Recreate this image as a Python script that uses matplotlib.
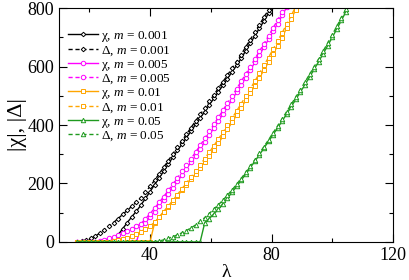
import numpy as np
import matplotlib
matplotlib.use("Agg")
import matplotlib.pyplot as plt

plt.rcParams['font.family'] = ['Liberation Serif', 'DejaVu Serif']
plt.rcParams['mathtext.fontset'] = 'custom'
plt.rcParams['mathtext.rm'] = 'Liberation Serif'
plt.rcParams['mathtext.it'] = 'Liberation Serif:italic'

# lambda grid (same for every series, each series stops once above the frame)
lam = [16 + 1.5 * k for k in range(61)]

# m = 0.001
chi_001 = [0, 0, 0, 0, 0, 0, 0, 0, 3, 24, 45, 66, 86, 105, 126, 149, 172, 196, 219, 242,
           266, 290, 313, 334, 357, 379, 402, 424, 446, 469, 491, 514, 536, 559, 582, 604,
           628, 654, 680, 705, 731, 756, 782, 807]
del_001 = [0, 2, 6, 12, 20, 30, 41, 53, 66, 80, 94, 108, 122, 136, 151, 170, 190, 211, 233,
           255, 278, 301, 324, 346, 369, 391, 414, 436, 458, 481, 503, 526, 548, 571, 594,
           617, 641, 667, 692, 718, 743, 769, 794, 820]
# m = 0.005
chi_005 = [0, 0, 0, 0, 0, 0, 0, 0, 0, 0, 0, 0, 0, 0, 48, 66, 85, 104, 124, 144, 165, 186,
           207, 229, 251, 273, 295, 318, 342, 366, 390, 414, 438, 463, 487, 512, 537, 562,
           588, 614, 640, 666, 693, 720, 747, 775, 803]
del_005 = [0, 0, 0, 0, 1, 3, 7, 12, 17, 22, 29, 37, 45, 53, 62, 79, 97, 115, 135, 155, 176,
           197, 219, 241, 263, 285, 307, 330, 354, 378, 402, 426, 450, 475, 499, 524, 549,
           574, 600, 626, 652, 678, 705, 732, 759, 787, 815]
# m = 0.01
chi_01 = [0, 0, 0, 0, 0, 0, 0, 0, 0, 0, 0, 0, 0, 0, 0, 0, 0, 65, 84, 102, 120, 138, 157,
          176, 195, 214, 234, 254, 274, 295, 316, 338, 361, 385, 409, 434, 459, 484, 509,
          535, 561, 588, 615, 643, 671, 699, 733, 764, 795, 826]
del_01 = [0, 0, 0, 0, 0, 0, 0, 1, 3, 6, 10, 15, 20, 26, 33, 44, 55, 67, 85, 104, 123, 142,
          162, 182, 202, 222, 243, 264, 285, 307, 329, 352, 375, 399, 423, 448, 473, 498,
          524, 550, 577, 604, 631, 659, 687, 716, 745, 775, 806]
# m = 0.05
chi_05 = [0, 0, 0, 0, 0, 0, 0, 0, 0, 0, 0, 0, 0, 0, 0, 0, 0, 0, 0, 0, 0, 0, 0, 0, 0, 0,
          0, 0, 65, 80, 96, 113, 131, 150, 170, 190, 211, 232, 254, 276, 298, 321, 344, 367,
          390, 414, 438, 463, 488, 513, 538, 564, 590, 617, 644, 672, 700, 729, 758, 788, 818]
del_05 = [0, 0, 0, 0, 0, 0, 0, 0, 0, 0, 0, 0, 0, 0, 0, 0, 0, 1, 3, 7, 12, 18, 24, 31, 39,
          48, 58, 70, 83, 97, 112, 127, 143, 160, 178, 197, 217, 238, 259, 281, 303, 326,
          349, 373, 397, 421, 446, 471, 496, 521, 547, 573, 599, 626, 653, 681, 709, 738,
          767, 797, 827]

masses = ['0.001', '0.005', '0.01', '0.05']
chis = [chi_001, chi_005, chi_01, chi_05]
dels = [del_001, del_005, del_01, del_05]
colors = ['black', '#ff00ff', '#ffa500', '#1f9a1f']
markers = ['D', 'o', 's', '^']
msizes = [2.3, 3.2, 3.0, 3.2]

fig = plt.figure(figsize=(4.09, 2.80), dpi=100)
ax = fig.add_axes([0.144, 0.136, 0.817, 0.835])

for i in range(len(masses)):
    c = chis[i]
    d = dels[i]
    ax.plot(lam[:len(c)], c, '-', color=colors[i], lw=1.0, marker=markers[i],
            ms=msizes[i], mfc='white', mec=colors[i], mew=0.7,
            label=r'χ, $m$ = ' + masses[i])
    ax.plot(lam[:len(d)], d, '--', color=colors[i], lw=1.0, marker=markers[i],
            ms=msizes[i], mfc='white', mec=colors[i], mew=0.7, dashes=(3, 2),
            label=r'Δ, $m$ = ' + masses[i])

ax.set_xlim(10, 120)
ax.set_ylim(0, 800)
ax.set_xticks([40, 80, 120])
ax.set_xticks([20, 60, 100], minor=True)
ax.set_yticks([0, 200, 400, 600, 800])
ax.set_yticks([100, 300, 500, 700], minor=True)
ax.tick_params(which='both', direction='in', top=True, right=True, labelsize=13)
ax.tick_params(which='major', length=6, width=0.8)
ax.tick_params(which='minor', length=3, width=0.8)
ax.set_xlabel('λ', fontsize=14, labelpad=0)
ax.set_ylabel('|χ|, |Δ|', fontsize=16, labelpad=0)

ax.legend(loc='upper left', bbox_to_anchor=(0.0, 0.95), frameon=False, fontsize=9.5,
          handlelength=2.3, handletextpad=0.2, labelspacing=0.0, borderaxespad=0.3)

fig.savefig('out.png', dpi=100)
